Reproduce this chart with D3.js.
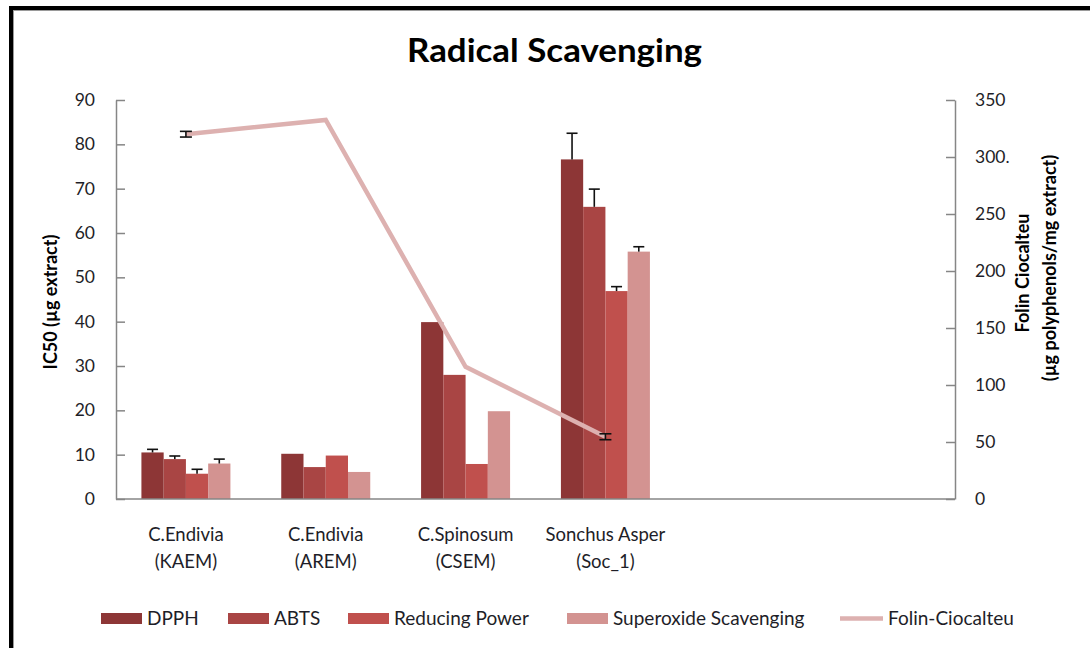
<!DOCTYPE html>
<html>
<head>
<meta charset="utf-8">
<script src="https://cdn.jsdelivr.net/npm/d3@7"></script>
<style>
  body { margin: 0; background: #fff; }
  svg { display: block; }
  text { font-family: Lato, "Open Sans", "Noto Sans", sans-serif; }
</style>
</head>
<body>
<svg id="chart" width="1090" height="648"></svg>
<script>
// ---- data ----
const categories = ["C.Endivia\n(KAEM)", "C.Endivia\n(AREM)", "C.Spinosum\n(CSEM)", "Sonchus Asper\n(Soc_1)", "", ""];
const seriesNames = ["DPPH", "ABTS", "Reducing Power", "Superoxide Scavenging"];
const dpph = [10.5, 10.2, 39.9, 76.6];
const dpphErr = [0.7, 0, 0, 5.9];
const abts = [9.0, 7.2, 28.0, 65.9];
const abtsErr = [0.7, 0, 0, 4.0];
const reducingPower = [5.7, 9.8, 7.9, 46.9];
const reducingPowerErr = [1.0, 0, 0, 1.0];
const superoxide = [8.0, 6.1, 19.8, 55.8];
const superoxideErr = [1.0, 0, 0, 1.1];
const folinName = "Folin-Ciocalteu";
const folin = [320, 332.5, 116, 54.6];
const folinErr = [2.5, 0, 0, 2.6];
const leftTicks = [0, 10, 20, 30, 40, 50, 60, 70, 80, 90];
const rightTicks = [0, 50, 100, 150, 200, 250, 300, 350];
const rightTickLabels = ["0", "50", "100", "150", "200", "250", "300.", "350"];

const barValues = [dpph, abts, reducingPower, superoxide];
const barErrors = [dpphErr, abtsErr, reducingPowerErr, superoxideErr];
const colors = ["#8D3636", "#A94544", "#C0504D", "#D39391"];
const lineColor = "#DDB1B0";

// ---- layout ----
const svg = d3.select("#chart");
const W = 1090, H = 648;
const plot = { left: 116, right: 955, top: 100, bottom: 499 };

svg.append("rect").attr("width", W).attr("height", H).attr("fill", "#fff");

// frame along the top and left edges
svg.append("line").attr("x1", 9).attr("x2", W).attr("y1", 8).attr("y2", 8)
  .attr("stroke", "#000").attr("stroke-width", 4);
svg.append("line").attr("x1", 11).attr("x2", 11).attr("y1", 6).attr("y2", H)
  .attr("stroke", "#000").attr("stroke-width", 4);
svg.append("line").attr("x1", 13).attr("x2", W).attr("y1", 10.5).attr("y2", 10.5)
  .attr("stroke", "#9a9a9a").attr("stroke-width", 1);
svg.append("line").attr("x1", 13.5).attr("x2", 13.5).attr("y1", 10).attr("y2", H)
  .attr("stroke", "#9a9a9a").attr("stroke-width", 1);

// ---- scales ----
const x = d3.scaleBand().domain(d3.range(categories.length))
  .range([plot.left, plot.right]).paddingInner(0).paddingOuter(0);
const groupWidth = 89;
const xs = d3.scaleBand().domain(d3.range(seriesNames.length))
  .range([-groupWidth / 2, groupWidth / 2]).padding(0);
const yL = d3.scaleLinear().domain([0, 90]).range([plot.bottom, plot.top]);
const yR = d3.scaleLinear().domain([0, 350]).range([plot.bottom, plot.top]);

// ---- axes ----
const axisColor = "#868686";
const gL = svg.append("g").attr("transform", `translate(${plot.left},0)`)
  .call(d3.axisLeft(yL).tickValues(leftTicks).tickSize(-9).tickSizeOuter(0).tickPadding(21));
const gR = svg.append("g").attr("transform", `translate(${plot.right},0)`)
  .call(d3.axisRight(yR).tickValues(rightTicks).tickSize(-9).tickSizeOuter(0).tickPadding(20)
    .tickFormat((d, i) => rightTickLabels[i]));
[gL, gR].forEach(g => {
  g.select(".domain").attr("stroke", axisColor).attr("stroke-width", 1.5);
  g.selectAll(".tick line").attr("stroke", axisColor).attr("stroke-width", 1.5);
  g.selectAll(".tick text").attr("fill", "#1e1e28").attr("font-size", 17.5)
    .attr("font-family", "Lato, 'Open Sans', sans-serif");
});

// ---- bars ----
const barGroups = svg.append("g");
barValues.forEach((vals, s) => {
  barGroups.selectAll(null).data(vals).enter().append("rect")
    .attr("x", (d, i) => x(i) + x.bandwidth() / 2 + xs(s))
    .attr("width", xs.bandwidth())
    .attr("y", d => yL(d))
    .attr("height", d => yL(0) - yL(d))
    .attr("fill", colors[s]);
});

// x-axis line
svg.append("line").attr("x1", plot.left).attr("x2", plot.right)
  .attr("y1", plot.bottom).attr("y2", plot.bottom)
  .attr("stroke", axisColor).attr("stroke-width", 1.5);

// error bars (plus direction)
const errG = svg.append("g").attr("stroke", "#111").attr("stroke-width", 1.6);
barValues.forEach((vals, s) => {
  vals.forEach((v, i) => {
    const e = barErrors[s][i];
    if (!e) return;
    const cx = x(i) + x.bandwidth() / 2 + xs(s) + xs.bandwidth() / 2;
    errG.append("line").attr("x1", cx).attr("x2", cx).attr("y1", yL(v)).attr("y2", yL(v + e));
    errG.append("line").attr("x1", cx - 5.5).attr("x2", cx + 5.5).attr("y1", yL(v + e)).attr("y2", yL(v + e));
  });
});

// ---- Folin-Ciocalteu line (right axis) ----
const line = d3.line().x((d, i) => x(i) + x.bandwidth() / 2).y(d => yR(d));
svg.append("path").datum(folin).attr("d", line)
  .attr("fill", "none").attr("stroke", lineColor).attr("stroke-width", 4.5)
  .attr("stroke-linejoin", "miter");
const folErrG = svg.append("g").attr("stroke", "#111").attr("stroke-width", 1.6);
folin.forEach((v, i) => {
  const e = folinErr[i];
  if (!e) return;
  const cx = x(i) + x.bandwidth() / 2;
  folErrG.append("line").attr("x1", cx).attr("x2", cx).attr("y1", yR(v - e)).attr("y2", yR(v + e));
  [v - e, v + e].forEach(t => folErrG.append("line")
    .attr("x1", cx - 6).attr("x2", cx + 6).attr("y1", yR(t)).attr("y2", yR(t)));
});

// ---- category labels ----
const catG = svg.append("g").attr("fill", "#1e1e28").attr("font-size", 18.5).attr("text-anchor", "middle");
categories.forEach((c, i) => {
  if (!c) return;
  c.split("\n").forEach((ln, k) => {
    catG.append("text").attr("x", x(i) + x.bandwidth() / 2).attr("y", 541 + k * 27).text(ln);
  });
});

// ---- title ----
svg.append("text").attr("x", 554.5).attr("y", 62).attr("text-anchor", "middle")
  .attr("font-size", 33).attr("font-weight", "bold").attr("fill", "#000")
  .attr("textLength", 295).attr("lengthAdjust", "spacingAndGlyphs")
  .text("Radical Scavenging");

// ---- axis titles ----
svg.append("text").attr("transform", "translate(57,302) rotate(-90)")
  .attr("text-anchor", "middle").attr("font-size", 18).attr("font-weight", "bold").attr("fill", "#000")
  .text("IC50 (µg extract)");
svg.append("text").attr("transform", "translate(1029,273) rotate(-90)")
  .attr("text-anchor", "middle").attr("font-size", 18).attr("font-weight", "bold").attr("fill", "#000")
  .text("Folin Ciocalteu");
svg.append("text").attr("transform", "translate(1056,268) rotate(-90)")
  .attr("text-anchor", "middle").attr("font-size", 18).attr("font-weight", "bold").attr("fill", "#000")
  .text("(µg polyphenols/mg extract)");

// ---- legend ----
const legendX = [101, 228, 348, 567, 840];
const legG = svg.append("g").attr("font-size", 19).attr("fill", "#1e1e28");
seriesNames.forEach((n, s) => {
  legG.append("rect").attr("x", legendX[s]).attr("y", 613).attr("width", 41).attr("height", 11)
    .attr("fill", colors[s]);
  legG.append("text").attr("x", legendX[s] + 46).attr("y", 625).text(n);
});
legG.append("line").attr("x1", legendX[4]).attr("x2", legendX[4] + 43)
  .attr("y1", 618.5).attr("y2", 618.5).attr("stroke", lineColor).attr("stroke-width", 4.5);
legG.append("text").attr("x", legendX[4] + 48).attr("y", 625).text(folinName);
</script>
</body>
</html>
